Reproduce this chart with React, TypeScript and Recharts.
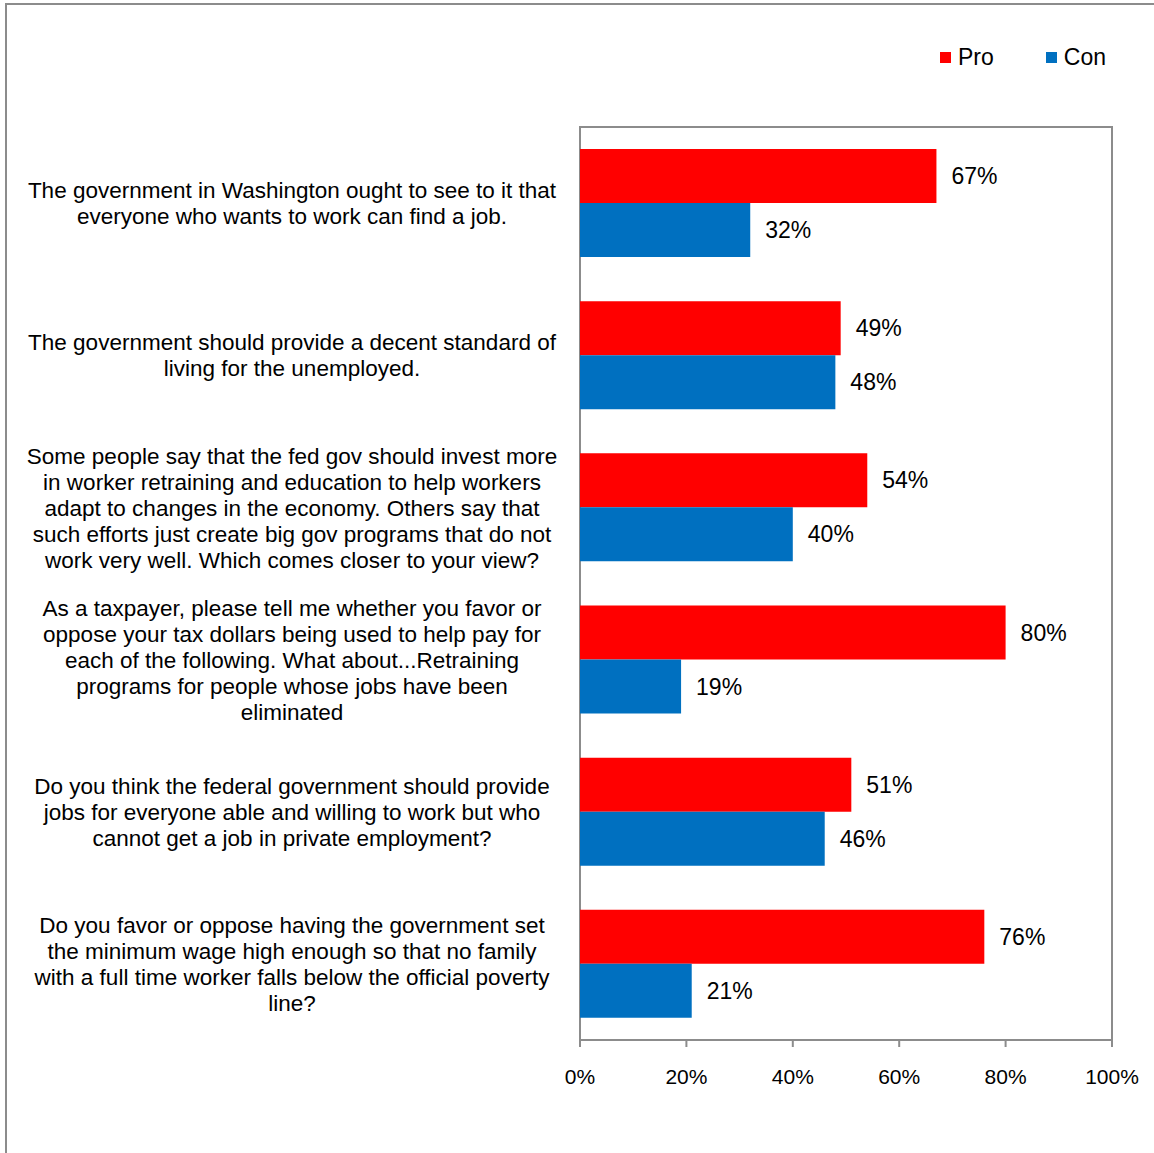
import { BarChart, Bar, XAxis, YAxis, Legend, LabelList, ReferenceArea } from 'recharts';

const questions = [
  'The government in Washington ought to see to it that\neveryone who wants to work can find a job.',
  'The government should provide a decent standard of\nliving for the unemployed.',
  'Some people say that the fed gov should invest more\nin worker retraining and education to help workers\nadapt to changes in the economy. Others say that\nsuch efforts just create big gov programs that do not\nwork very well. Which comes closer to your view?',
  'As a taxpayer, please tell me whether you favor or\noppose your tax dollars being used to help pay for\neach of the following. What about...Retraining\nprograms for people whose jobs have been\neliminated',
  'Do you think the federal government should provide\njobs for everyone able and willing to work but who\ncannot get a job in private employment?',
  'Do you favor or oppose having the government set\nthe minimum wage high enough so that no family\nwith a full time worker falls below the official poverty\nline?',
];
const pro = [67, 49, 54, 80, 51, 76];
const con = [32, 48, 40, 19, 46, 21];
const xTicks = [0, 20, 40, 60, 80, 100];
const seriesNames = ['Pro', 'Con'];

const data = questions.map((q, i) => ({ q, pro: pro[i], con: con[i] }));

const RED = '#FF0000';
const BLUE = '#0070C0';
const GRAY = '#8c8c8c';

const QuestionTick = (props: any) => {
  const { x, y, payload } = props;
  const lines: string[] = String(payload.value).split('\n');
  const lh = 26;
  const cx = x - 288;
  return (
    <text x={cx} y={y} textAnchor="middle" fontSize={22.5} fill="#000">
      {lines.map((l, i) => (
        <tspan key={i} x={cx} y={y + (i - (lines.length - 1) / 2) * lh} dy="0.36em">
          {l}
        </tspan>
      ))}
    </text>
  );
};

const LegendBox = (props: any) => {
  const items = [...(props.payload || [])].sort(
    (a: any, b: any) => seriesNames.indexOf(a.value) - seriesNames.indexOf(b.value)
  );
  return (
    <div style={{ display: 'flex', justifyContent: 'flex-end' }}>
      {items.map((it: any, i: number) => (
        <div key={i} style={{ display: 'flex', alignItems: 'center', marginLeft: i ? 52 : 0 }}>
          <span style={{ width: 11, height: 11, background: it.color, display: 'inline-block', marginRight: 7 }} />
          <span style={{ fontSize: 23, color: '#000' }}>{it.value}</span>
        </div>
      ))}
    </div>
  );
};

export default function App() {
  return (
    <div style={{ position: 'absolute', left: 0, top: 0, width: 1154, height: 1153, overflow: 'hidden', background: '#fff', fontFamily: '"Liberation Sans", Arial, sans-serif' }}>
      <div style={{ position: 'absolute', left: 5, top: 3, width: 1200, height: 1200, borderLeft: `2px solid ${GRAY}`, borderTop: `2px solid ${GRAY}` }} />
      <div style={{ position: 'absolute', left: 0, top: 0 }}>
        <BarChart
          width={1154}
          height={1153}
          data={data}
          layout="vertical"
          margin={{ top: 100, right: 42, bottom: 53, left: 0 }}
          barGap={0}
        >
          <XAxis
            type="number"
            domain={[0, 100]}
            ticks={xTicks}
            interval={0}
            tickFormatter={(v) => `${v}%`}
            tick={{ fill: '#000', fontSize: 21 }}
            axisLine={{ stroke: GRAY, strokeWidth: 2 }}
            tickLine={{ stroke: GRAY, strokeWidth: 2 }}
            tickSize={7}
            tickMargin={22}
            height={60}
          />
          <YAxis
            type="category"
            dataKey="q"
            width={580}
            axisLine={false}
            tickLine={false}
            tickSize={0}
            tickMargin={0}
            interval={0}
            tick={<QuestionTick />}
          />
          <ReferenceArea x1={0} x2={100} fill="none" stroke={GRAY} strokeWidth={2} ifOverflow="visible" />
          <Legend
            verticalAlign="top"
            align="right"
            content={<LegendBox />}
            wrapperStyle={{ top: 44, right: 48, left: 'auto', width: 'auto' }}
          />
          <Bar dataKey="pro" name="Pro" fill={RED} barSize={54} isAnimationActive={false}>
            <LabelList dataKey="pro" position="right" offset={15} fill="#000" fontSize={23} formatter={(v: any) => `${v}%`} />
          </Bar>
          <Bar dataKey="con" name="Con" fill={BLUE} barSize={54} isAnimationActive={false}>
            <LabelList dataKey="con" position="right" offset={15} fill="#000" fontSize={23} formatter={(v: any) => `${v}%`} />
          </Bar>
        </BarChart>
      </div>
    </div>
  );
}
